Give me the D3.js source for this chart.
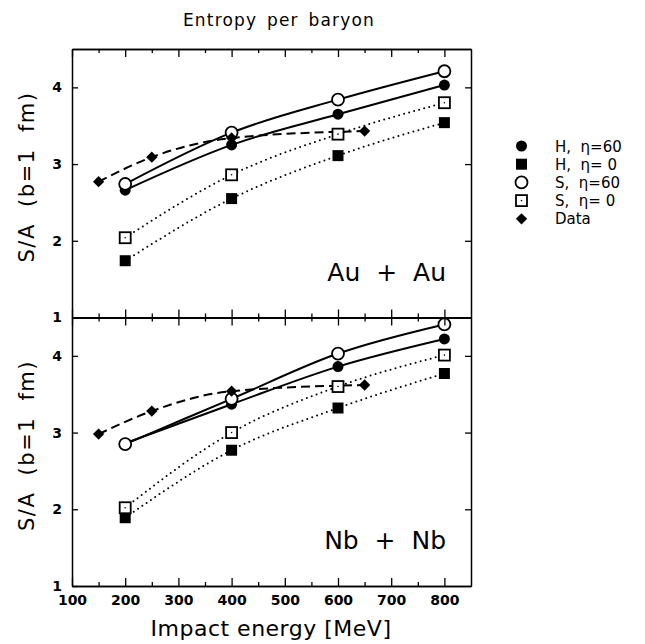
<!DOCTYPE html>
<html>
<head>
<meta charset="utf-8">
<script src="https://cdn.jsdelivr.net/npm/d3@7"></script>
<style>
  body { margin: 0; background: #fff; }
  text { font-family: "DejaVu Sans", sans-serif; fill: #000; white-space: pre; }
</style>
</head>
<body>
<div id="d3"></div>
<script>
// beam energies of the calculations and of the measured points
var energies = [200, 400, 600, 800];
var dataEnergies = [150, 250, 400, 650];

// Au + Au
var auH60 = [2.66, 3.25, 3.65, 4.03];
var auH0  = [1.74, 2.55, 3.11, 3.54];
var auS60 = [2.74, 3.41, 3.84, 4.21];
var auS0  = [2.04, 2.86, 3.39, 3.80];
var auData = [2.77, 3.09, 3.34, 3.43];

// Nb + Nb
var nbH60 = [2.86, 3.37, 3.86, 4.22];
var nbH0  = [1.89, 2.77, 3.32, 3.77];
var nbS60 = [2.85, 3.44, 4.03, 4.41];
var nbS0  = [2.02, 3.00, 3.60, 4.01];
var nbData = [2.98, 3.28, 3.54, 3.62];

var xMajor = [100, 200, 300, 400, 500, 600, 700, 800];
var xMinor = [150, 250, 350, 450, 550, 650, 750];
var yTicks = [1, 2, 3, 4];
var legendLabels = ["H,  \u03b7=60", "H,  \u03b7= 0", "S,  \u03b7=60", "S,  \u03b7= 0", "Data"];

// dimensions
var W = 645, H = 644;
var left = 72, right = 471;
var panelTops = [49, 317.5];
var panelH = 268.5;

var svg = d3.select("#d3")
  .append("svg")
  .attr("width", W)
  .attr("height", H);

svg.append("rect").attr("width", W).attr("height", H).attr("fill", "#fff");

var x = d3.scaleLinear()
  .domain([100, 850])
  .range([left, right]);

// marker drawing
function marker(g, kind, cx, cy) {
  if (kind == "fc") {
    g.append("circle").attr("cx", cx).attr("cy", cy).attr("r", 5.5).attr("fill", "#000");
  } else if (kind == "oc") {
    g.append("circle").attr("cx", cx).attr("cy", cy).attr("r", 6)
      .attr("fill", "#fff").attr("stroke", "#000").attr("stroke-width", 1.8);
  } else if (kind == "fs") {
    g.append("rect").attr("x", cx - 5.5).attr("y", cy - 5.5).attr("width", 11).attr("height", 11).attr("fill", "#000");
  } else if (kind == "os") {
    g.append("rect").attr("x", cx - 5.5).attr("y", cy - 5.5).attr("width", 11).attr("height", 11)
      .attr("fill", "#fff").attr("stroke", "#000").attr("stroke-width", 1.8);
    g.append("circle").attr("cx", cx).attr("cy", cy).attr("r", 0.8).attr("fill", "#000");
  } else if (kind == "dm") {
    g.append("path")
      .attr("d", d3.symbol().type(d3.symbolSquare).size(64)())
      .attr("transform", "translate(" + cx + "," + cy + ") rotate(45)")
      .attr("fill", "#000");
  }
}

function drawPanel(idx, series, label) {
  var top = panelTops[idx];
  var y = d3.scaleLinear().domain([1, 4.5]).range([top + panelH, top]);
  var g = svg.append("g");

  var line = d3.line()
    .x(function(d) { return x(d[0]); })
    .y(function(d) { return y(d[1]); })
    .curve(d3.curveMonotoneX);

  series.forEach(function(s) {
    g.append("path")
      .datum(s.xs.map(function(e, i) { return [e, s.vals[i]]; }))
      .attr("fill", "none")
      .attr("stroke", "#000")
      .attr("stroke-width", s.dash == "dot" ? 2 : 2)
      .attr("stroke-linecap", s.dash == "dot" ? "round" : "butt")
      .attr("stroke-dasharray", s.dash == "dot" ? "0,5.2" : (s.dash == "dash" ? "9,5" : null))
      .attr("d", line);
  });

  series.forEach(function(s) {
    s.xs.forEach(function(e, i) { marker(g, s.kind, x(e), y(s.vals[i])); });
  });

  // axes
  svg.append("g")
    .attr("transform", "translate(0," + (top + panelH) + ")")
    .call(d3.axisBottom(x).tickValues(xMajor).tickSizeInner(-8).tickSizeOuter(0).tickPadding(9)
      .tickFormat(idx == 1 ? d3.format("d") : function() { return ""; }));
  svg.append("g")
    .attr("transform", "translate(0," + (top + panelH) + ")")
    .call(d3.axisBottom(x).tickValues(xMinor).tickSizeInner(-4).tickSizeOuter(0).tickFormat(""));

  svg.append("g")
    .attr("transform", "translate(0," + top + ")")
    .call(d3.axisTop(x).tickValues(xMajor).tickSizeInner(-8).tickSizeOuter(0).tickFormat(""));
  svg.append("g")
    .attr("transform", "translate(0," + top + ")")
    .call(d3.axisTop(x).tickValues(xMinor).tickSizeInner(-4).tickSizeOuter(0).tickFormat(""));

  svg.append("g")
    .attr("transform", "translate(" + left + ",0)")
    .call(d3.axisLeft(y).tickValues(yTicks).tickSizeInner(-6).tickSizeOuter(0).tickPadding(10).tickFormat(d3.format("d")));
  svg.append("g")
    .attr("transform", "translate(" + right + ",0)")
    .call(d3.axisRight(y).tickValues(yTicks.slice(1)).tickSizeInner(-6).tickSizeOuter(0).tickFormat(""));

  svg.selectAll(".domain").attr("stroke", "#000").attr("stroke-width", 1.5);
  svg.selectAll(".tick line").attr("stroke", "#000").attr("stroke-width", 1.3);
  svg.selectAll(".tick text").style("font-size", "14px").style("font-weight", "bold").attr("fill", "#000");

  // y axis title
  svg.append("text")
    .attr("transform", "translate(34," + (top + 128) + ") rotate(-90)")
    .attr("text-anchor", "middle")
    .style("font-size", "21px")
    .style("letter-spacing", "1.5px")
    .text("S/A  (b=1  fm)");

  // system label
  svg.append("text")
    .attr("x", 446)
    .attr("y", top + panelH - 37)
    .attr("text-anchor", "end")
    .style("font-size", "25px")
    .text(label);
}

drawPanel(0, [
  {xs: energies, vals: auH60, kind: "fc", dash: "solid"},
  {xs: energies, vals: auS60, kind: "oc", dash: "solid"},
  {xs: energies, vals: auH0, kind: "fs", dash: "dot"},
  {xs: energies, vals: auS0, kind: "os", dash: "dot"},
  {xs: dataEnergies, vals: auData, kind: "dm", dash: "dash"}
], "Au  +  Au");

drawPanel(1, [
  {xs: energies, vals: nbH60, kind: "fc", dash: "solid"},
  {xs: energies, vals: nbS60, kind: "oc", dash: "solid"},
  {xs: energies, vals: nbH0, kind: "fs", dash: "dot"},
  {xs: energies, vals: nbS0, kind: "os", dash: "dot"},
  {xs: dataEnergies, vals: nbData, kind: "dm", dash: "dash"}
], "Nb  +  Nb");

// title
svg.append("text")
  .attr("x", 279)
  .attr("y", 26)
  .attr("text-anchor", "middle")
  .style("font-size", "17px")
  .style("letter-spacing", "1.2px")
  .style("word-spacing", "3px")
  .text("Entropy per baryon");

// x axis title
svg.append("text")
  .attr("x", 271)
  .attr("y", 636)
  .attr("text-anchor", "middle")
  .style("font-size", "22px")
  .style("letter-spacing", "0.5px")
  .text("Impact energy [MeV]");

// legend
var legendKinds = ["fc", "fs", "oc", "os", "dm"];
var legend = svg.append("g");
legendKinds.forEach(function(k, i) {
  var ly = 146 + i * 18.2;
  marker(legend, k, 521.5, ly);
  legend.append("text")
    .attr("x", 555)
    .attr("y", ly + 5.5)
    .style("font-size", "15px")
    .text(legendLabels[i]);
});
</script>
</body>
</html>
